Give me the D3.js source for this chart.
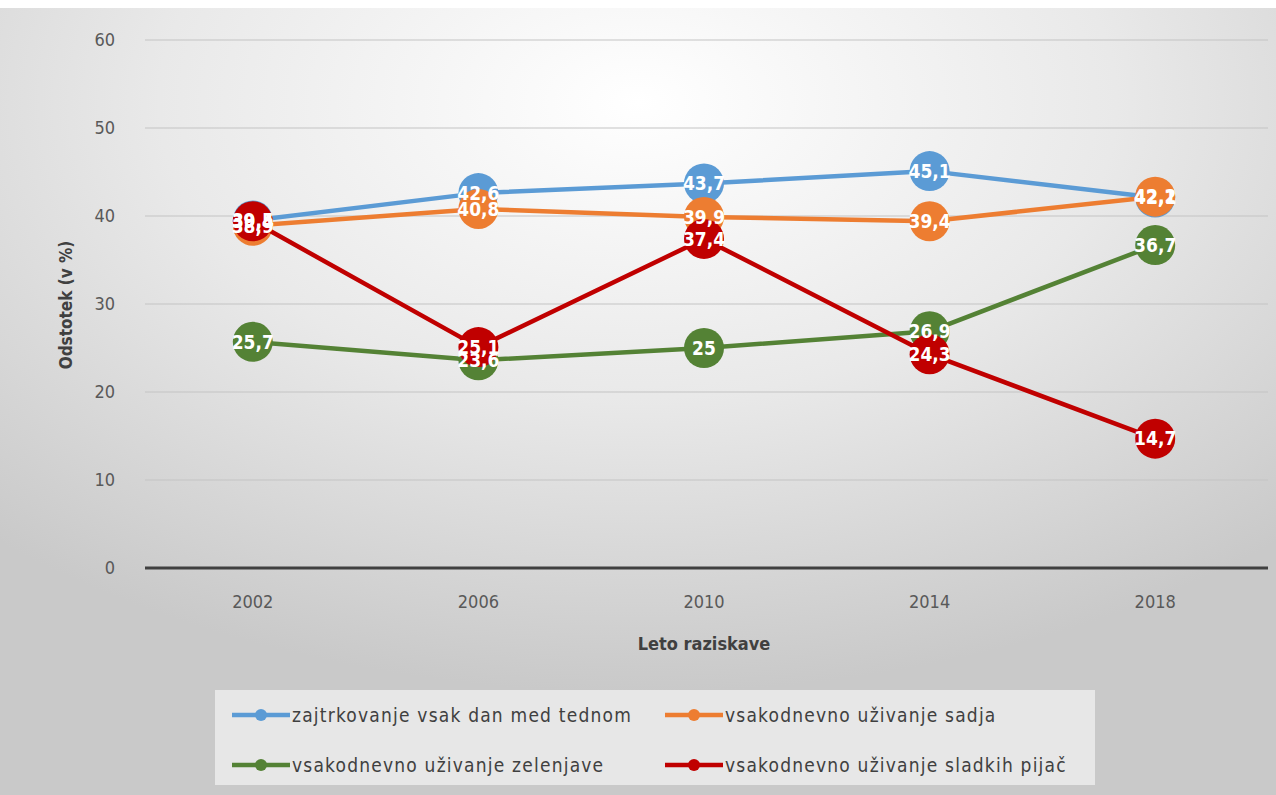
<!DOCTYPE html>
<html><head><meta charset="utf-8">
<script src="https://cdn.jsdelivr.net/npm/d3@7"></script>
<style>body{margin:0;background:#fff}svg{display:block}</style>
</head><body>
<svg id="c" width="1276" height="795"></svg>
<script>
const years = ["2002","2006","2010","2014","2018"];
const seriesNames = ["zajtrkovanje vsak dan med tednom","vsakodnevno uživanje sadja","vsakodnevno uživanje zelenjave","vsakodnevno uživanje sladkih pijač"];
const breakfast = [39.5,42.6,43.7,45.1,42.1];
const fruit = [38.9,40.8,39.9,39.4,42.2];
const vegetables = [25.7,23.6,25,26.9,36.7];
const sweetDrinks = [39.4,25.1,37.4,24.3,14.7];
const yTicks = [0,10,20,30,40,50,60];
const colors = ["#5B9BD5","#ED7D31","#548235","#C00000"];
const seriesValues = [breakfast, fruit, vegetables, sweetDrinks];

const svg = d3.select("#c");
const defs = svg.append("defs");
const rg = defs.append("radialGradient").attr("id","bg").attr("cx","50%").attr("cy","12%").attr("r","75%");
rg.append("stop").attr("offset","0%").attr("stop-color","#ffffff");
rg.append("stop").attr("offset","50%").attr("stop-color","#e9e9e9");
rg.append("stop").attr("offset","100%").attr("stop-color","#c9c9c9");
svg.append("rect").attr("x",0).attr("y",8).attr("width",1276).attr("height",787).attr("fill","url(#bg)");

const x = d3.scaleBand().domain(years).range([140,1268]);
const y = d3.scaleLinear().domain([0,60]).range([568,40]);
const fmt = v => String(v).replace(".",",");
const font = "'DejaVu Sans Condensed','Liberation Sans',sans-serif";

// gridlines
svg.append("g").selectAll("line").data(yTicks.filter(d=>d>0)).join("line")
  .attr("x1",145).attr("x2",1268).attr("y1",d=>y(d)).attr("y2",d=>y(d))
  .attr("stroke","#c4c4c4").attr("stroke-width",1.2);

// y axis labels
const yAxis = d3.axisLeft(y).tickValues(yTicks).tickSize(0).tickPadding(0);
const gy = svg.append("g").attr("transform","translate(115,0)").call(yAxis);
gy.select(".domain").remove();
gy.selectAll("text").attr("font-family",font).attr("font-size",18).attr("fill","#595959");

// x axis
const xAxis = d3.axisBottom(x).tickSize(0).tickPadding(27);
const gx = svg.append("g").attr("transform","translate(0,568)").call(xAxis);
gx.select(".domain").remove();
gx.selectAll("text").attr("font-family",font).attr("font-size",18).attr("fill","#595959");
svg.append("line").attr("x1",145).attr("x2",1268).attr("y1",y(0)).attr("y2",y(0))
  .attr("stroke","#404040").attr("stroke-width",3);

// axis titles
svg.append("text").attr("x",704).attr("y",650).attr("text-anchor","middle")
  .attr("font-family",font).attr("font-size",18).attr("font-weight","bold").attr("fill","#404040").text("Leto raziskave");
svg.append("text").attr("transform","translate(72,305) rotate(-90)").attr("text-anchor","middle")
  .attr("font-family",font).attr("font-size",17).attr("font-weight","bold").attr("fill","#404040").text("Odstotek (v %)");

const cx = d => x(d) + x.bandwidth()/2;
const line = d3.line().x((d,i)=>cx(years[i])).y(d=>y(d));

seriesValues.forEach((vals,si)=>{
  const g = svg.append("g");
  g.append("path").datum(vals).attr("d",line).attr("fill","none")
    .attr("stroke",colors[si]).attr("stroke-width",4.5).attr("stroke-linejoin","round");
  g.selectAll("circle").data(vals).join("circle")
    .attr("cx",(d,i)=>cx(years[i])).attr("cy",d=>y(d)).attr("r",20).attr("fill",colors[si]);
});
seriesValues.forEach((vals,si)=>{
  svg.append("g").selectAll("text").data(vals).join("text")
    .attr("x",(d,i)=>cx(years[i])).attr("y",d=>y(d)).attr("dy","0.36em").attr("text-anchor","middle")
    .attr("font-family",font).attr("font-size",19).attr("font-weight","bold").attr("fill","#fff").text(d=>fmt(d));
});

// legend
svg.append("rect").attr("x",215).attr("y",690).attr("width",880).attr("height",95).attr("fill","#e7e7e7");
const legPos = [[232,715],[665,715],[232,765],[665,765]];
seriesNames.forEach((n,i)=>{
  const [lx,ly] = legPos[i];
  const g = svg.append("g");
  g.append("line").attr("x1",lx).attr("x2",lx+58).attr("y1",ly).attr("y2",ly).attr("stroke",colors[i]).attr("stroke-width",4.5);
  g.append("circle").attr("cx",lx+29).attr("cy",ly).attr("r",6).attr("fill",colors[i]);
  g.append("text").attr("x",lx+60).attr("y",ly).attr("dy","0.35em").attr("font-family",font).attr("font-size",19)
    .attr("letter-spacing",1.2).attr("fill","#404040").text(n);
});
</script>
</body></html>
